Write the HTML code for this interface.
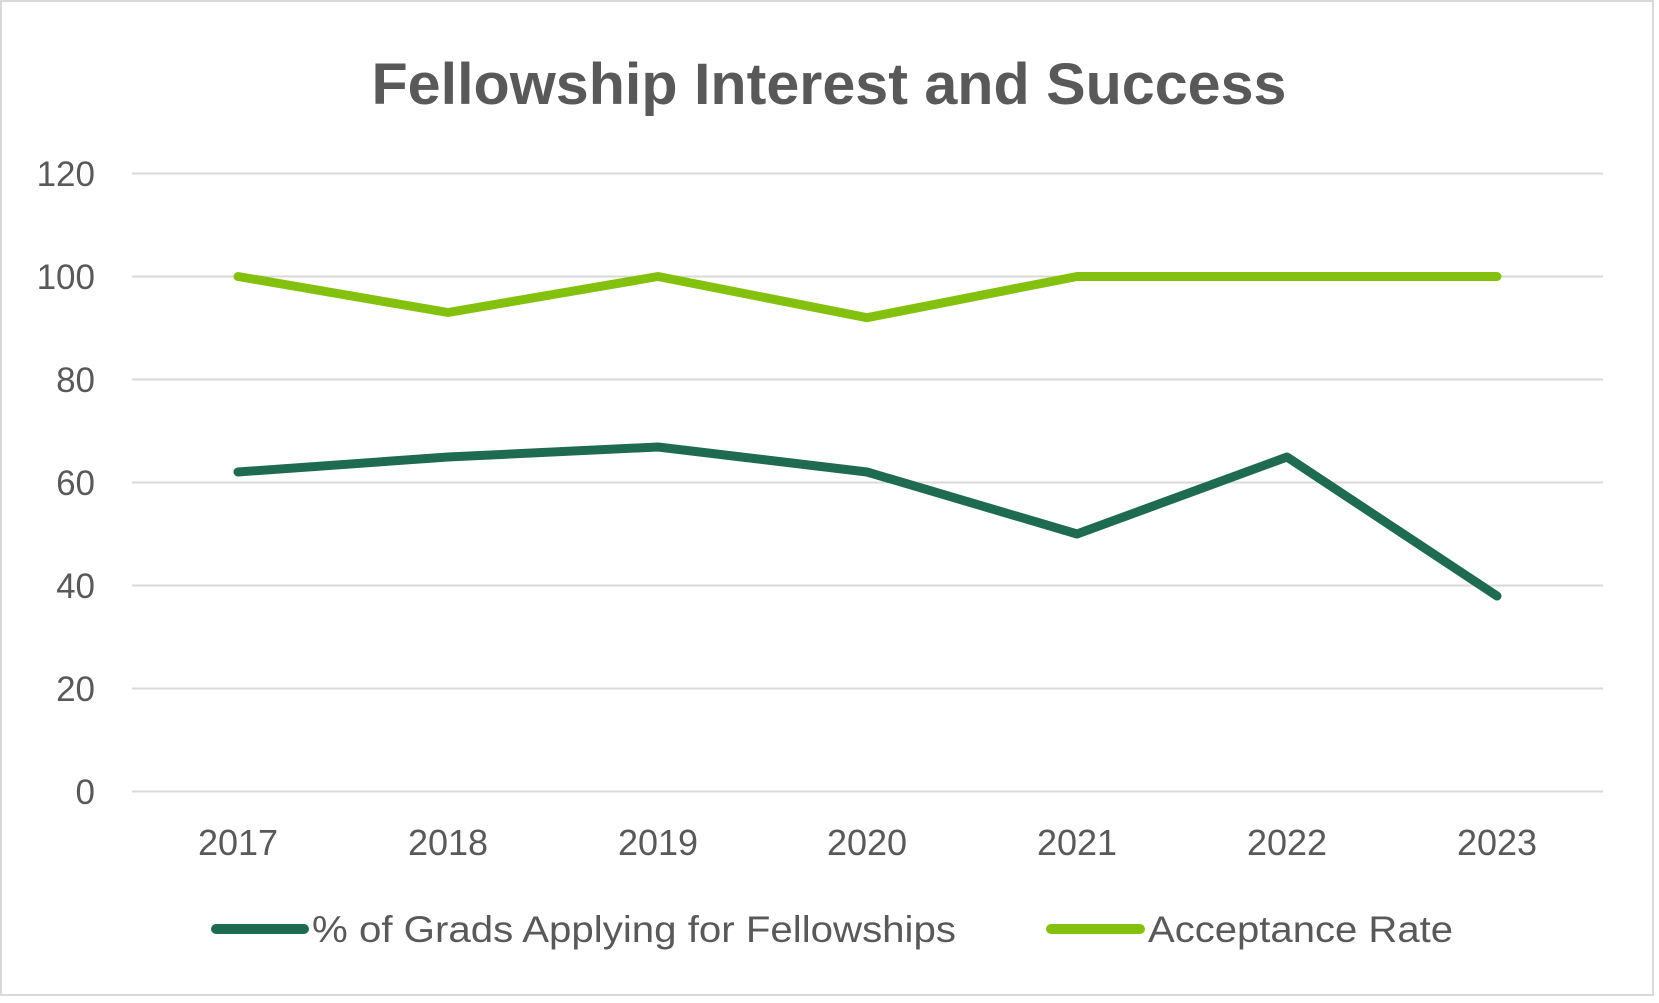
<!DOCTYPE html>
<html><head><meta charset="utf-8"><style>
html,body{margin:0;padding:0;background:#fff;}
svg{display:block;}
text{font-family:"Liberation Sans",sans-serif;fill:#595959;}
</style></head><body>
<svg width="1659" height="1003" viewBox="0 0 1659 1003">
<rect x="1" y="1" width="1652" height="994" fill="#fff" stroke="#d9d9d9" stroke-width="2"/>
<text x="829" y="104" font-size="58" font-weight="bold" text-anchor="middle" textLength="915" lengthAdjust="spacingAndGlyphs">Fellowship Interest and Success</text>
<g stroke="#d9d9d9" stroke-width="2">
<line x1="132" x2="1603" y1="173.5" y2="173.5"/>
<line x1="132" x2="1603" y1="276.5" y2="276.5"/>
<line x1="132" x2="1603" y1="379.5" y2="379.5"/>
<line x1="132" x2="1603" y1="482.5" y2="482.5"/>
<line x1="132" x2="1603" y1="585.5" y2="585.5"/>
<line x1="132" x2="1603" y1="688.5" y2="688.5"/>
<line x1="132" x2="1603" y1="791.5" y2="791.5"/>
</g>
<g font-size="35" text-anchor="end">
<text x="95" y="186">120</text>
<text x="95" y="289">100</text>
<text x="95" y="392">80</text>
<text x="95" y="495">60</text>
<text x="95" y="598">40</text>
<text x="95" y="701">20</text>
<text x="95" y="804">0</text>
</g>
<g font-size="36" text-anchor="middle">
<text x="238" y="855">2017</text>
<text x="448" y="855">2018</text>
<text x="658" y="855">2019</text>
<text x="867" y="855">2020</text>
<text x="1077" y="855">2021</text>
<text x="1287" y="855">2022</text>
<text x="1497" y="855">2023</text>
</g>
<polyline fill="none" stroke="#84c10f" stroke-width="9" stroke-linecap="round" stroke-linejoin="round"
 points="238,276.5 448,312.5 658,276.5 867,317.7 1077,276.5 1287,276.5 1497,276.5"/>
<polyline fill="none" stroke="#1e6b52" stroke-width="9" stroke-linecap="round" stroke-linejoin="round"
 points="238,472 448,457 658,447 867,472 1077,534 1287,457 1497,596"/>
<line x1="216" x2="304" y1="929" y2="929" stroke="#1e6b52" stroke-width="10" stroke-linecap="round"/>
<text x="312" y="942" font-size="37" textLength="644" lengthAdjust="spacingAndGlyphs">% of Grads Applying for Fellowships</text>
<line x1="1051" x2="1140" y1="929" y2="929" stroke="#84c10f" stroke-width="10" stroke-linecap="round"/>
<text x="1148" y="942" font-size="37" textLength="305" lengthAdjust="spacingAndGlyphs">Acceptance Rate</text>
</svg>
</body></html>
